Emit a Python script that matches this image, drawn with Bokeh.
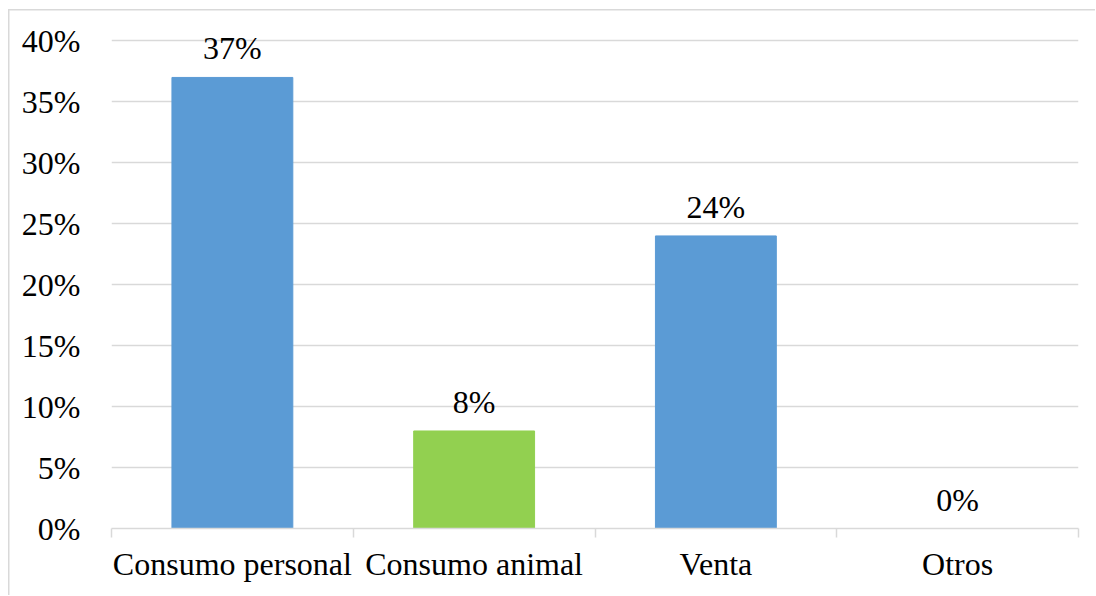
from bokeh.plotting import figure
from bokeh.models import Range1d, FixedTicker, NumeralTickFormatter, ColumnDataSource
from bokeh.core.properties import value
from bokeh.embed import file_html
from bokeh.resources import INLINE

categories = ["Consumo personal", "Consumo animal", "Venta", "Otros"]
values = [0.37, 0.08, 0.24, 0.0]
labels = ["37%", "8%", "24%", "0%"]
colors = ["#5B9BD5", "#92D050", "#5B9BD5", "#5B9BD5"]
y_ticks = [0.0, 0.05, 0.10, 0.15, 0.20, 0.25, 0.30, 0.35, 0.40]

n = len(categories)
centers = [i + 0.5 for i in range(n)]
bounds = [float(i) for i in range(n + 1)]

FONT = "Liberation Serif"
FS = "32px"

src = ColumnDataSource(dict(x=centers, top=values, color=colors, label=labels))

p = figure(width=1095, height=595, output_backend="svg", toolbar_location=None,
           x_range=Range1d(0, n), y_range=Range1d(0, 0.42),
           min_border_left=111, min_border_right=17, min_border_top=16, min_border_bottom=67)
p.outline_line_color = None
p.background_fill_color = "white"
p.border_fill_color = None
p.styles = {
    "background": "linear-gradient(#d9d9d9, #d9d9d9) 8px 9px / 100% 1.5px no-repeat, "
                  "linear-gradient(#d9d9d9, #d9d9d9) 8px 9px / 1.5px 100% no-repeat, white"
}

p.vbar(x="x", top="top", width=0.5, color="color", source=src)
p.text(x="x", y="top", text="label", source=src, text_align="center",
       text_baseline="bottom", y_offset=-11, text_font=value(FONT),
       text_font_size=FS, text_color="black")

# y axis
p.yaxis.ticker = FixedTicker(ticks=y_ticks)
p.yaxis.formatter = NumeralTickFormatter(format="0%")
p.yaxis.axis_line_color = None
p.yaxis.major_tick_line_color = None
p.yaxis.minor_tick_line_color = None
p.yaxis.major_tick_out = 0
p.yaxis.major_tick_in = 0
p.yaxis.major_label_standoff = 31
p.yaxis.major_label_text_font = FONT
p.yaxis.major_label_text_font_size = FS
p.yaxis.major_label_text_color = "black"

# x axis
p.xaxis.ticker = FixedTicker(ticks=centers, minor_ticks=bounds)
p.xaxis.major_label_overrides = {c: cat for c, cat in zip(centers, categories)}
p.xaxis.axis_line_color = "#d9d9d9"
p.xaxis.axis_line_width = 1.5
p.xaxis.major_tick_line_color = None
p.xaxis.major_tick_out = 0
p.xaxis.major_tick_in = 0
p.xaxis.minor_tick_line_color = "#d9d9d9"
p.xaxis.minor_tick_line_width = 1.5
p.xaxis.minor_tick_out = 9
p.xaxis.minor_tick_in = 0
p.xaxis.major_label_standoff = 8
p.xaxis.major_label_text_font = FONT
p.xaxis.major_label_text_font_size = FS
p.xaxis.major_label_text_color = "black"

p.xgrid.grid_line_color = None
p.ygrid.grid_line_color = "#d9d9d9"
p.ygrid.grid_line_width = 1.5

open("out.html", "w").write(file_html(p, INLINE))
